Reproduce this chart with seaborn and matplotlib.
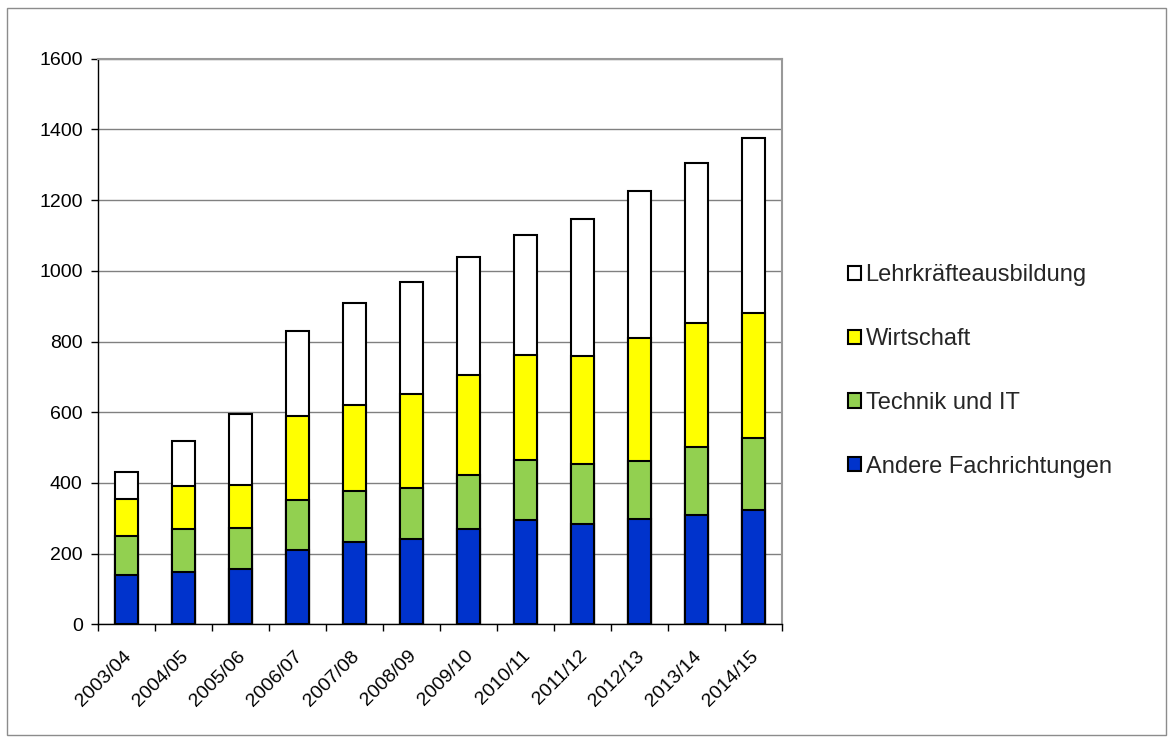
import numpy as np
import pandas as pd
import seaborn as sns
import matplotlib.pyplot as plt
from matplotlib.patches import Patch, Rectangle
from matplotlib.transforms import ScaledTranslation

# values
years = ["2003/04", "2004/05", "2005/06", "2006/07", "2007/08", "2008/09",
         "2009/10", "2010/11", "2011/12", "2012/13", "2013/14", "2014/15"]
andere = [140, 149, 156, 209, 232, 242, 270, 296, 285, 298, 308, 322]
technik = [111, 121, 116, 143, 146, 143, 152, 169, 168, 165, 193, 204]
wirtschaft = [103, 122, 122, 238, 243, 266, 284, 298, 306, 346, 352, 355]
lehrkraefte = [77, 127, 202, 240, 289, 316, 334, 338, 387, 418, 452, 494]

series = ["Andere Fachrichtungen", "Technik und IT", "Wirtschaft", "Lehrkräfteausbildung"]
colors = ["#0033CC", "#92D050", "#FFFF00", "#FFFFFF"]

sns.set_theme(style="white")
plt.rcParams["font.family"] = ["Liberation Sans", "DejaVu Sans"]

df = pd.DataFrame({
    "year": years,
    series[0]: andere,
    series[1]: technik,
    series[2]: wirtschaft,
    series[3]: lehrkraefte,
})
# cumulative sums, drawn tallest first so every segment shows
cum = df[series].cumsum(axis=1)

fig = plt.figure(figsize=(11.73, 7.42), dpi=100)
ax = fig.add_axes([98 / 1173, 1 - 624.3 / 742, (782 - 98) / 1173, (624.3 - 58.7) / 742])

for name, col in reversed(list(zip(series, colors))):
    sns.barplot(x=df["year"], y=cum[name], color=col, width=0.4,
                edgecolor="black", linewidth=1.5, saturation=1, ax=ax, zorder=3)

ax.set_ylim(0, 1600)
ax.set_xlim(-0.5, len(years) - 0.5)
ax.set_yticks(np.arange(0, 1601, 200))
ax.set_xticks(np.arange(-0.5, len(years), 1), minor=True)
ax.set_xlabel("")
ax.set_ylabel("")
ax.yaxis.grid(True, color="#808080", linewidth=1, zorder=0)
ax.set_axisbelow(True)

ax.tick_params(axis="y", which="major", direction="out", length=5, width=1,
               color="black", labelsize=14, labelcolor="black", pad=6, left=True)
ax.tick_params(axis="x", which="major", length=0, labelsize=14, labelcolor="black", pad=8)
ax.tick_params(axis="x", which="minor", direction="out", length=5, width=1,
               color="black", bottom=True)
shift = ScaledTranslation(-4 / 100, -12 / 100, fig.dpi_scale_trans)
for lab in ax.get_xticklabels():
    lab.set_rotation(45)
    lab.set_ha("right")
    lab.set_rotation_mode("anchor")
    lab.set_transform(lab.get_transform() + shift)

for side in ["left", "bottom"]:
    ax.spines[side].set_color("black")
    ax.spines[side].set_linewidth(1)
for side in ["top", "right"]:
    ax.spines[side].set_visible(True)
    ax.spines[side].set_color("#999999")
    ax.spines[side].set_linewidth(1.5)

handles = [Patch(facecolor=c, edgecolor="black", linewidth=1.5, label=s)
           for s, c in zip(series, colors)][::-1]
fig.legend(handles=handles, loc="center left", bbox_to_anchor=(836 / 1173, 0.5),
           frameon=False, fontsize=17, handlelength=0.55, handleheight=0.55,
           handletextpad=0.2, labelspacing=1.77, borderpad=0)

# outer chart frame
fig.add_artist(Rectangle((7 / 1173, 1 - 735 / 742), (1166 - 7) / 1173, (735 - 8) / 742,
                         transform=fig.transFigure, fill=False,
                         edgecolor="#8c8c8c", linewidth=1))

fig.savefig("out.png", dpi=100)
